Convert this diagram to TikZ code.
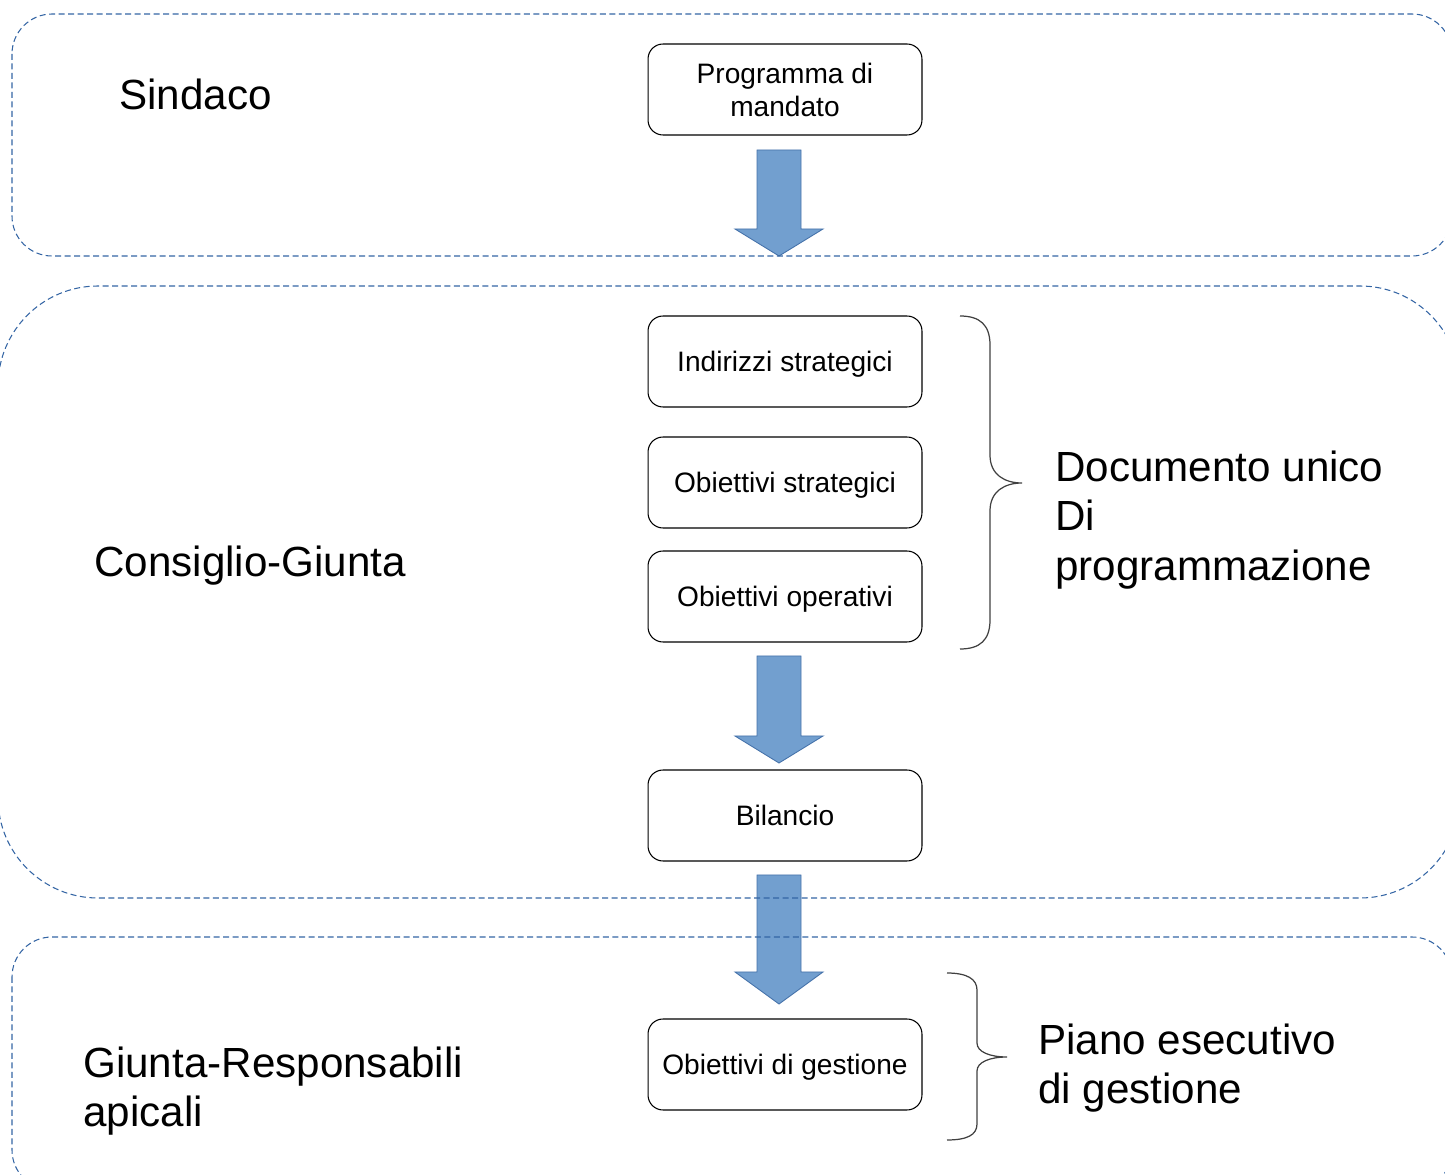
\documentclass[tikz,border=0pt]{standalone}
\usepackage{fontspec}
\setmainfont{Liberation Sans}
\usepackage{tikz}

\definecolor{cornice}{RGB}{52,101,164}
\definecolor{frecciafill}{RGB}{114,159,207}
\definecolor{frecciabordo}{RGB}{69,114,170}

\tikzset{
    casella/.style={draw=black, line width=0.6pt, rounded corners=0.3cm,
        minimum width=5.48cm, minimum height=1.82cm, inner sep=0pt, align=center,
        text depth=0pt, font=\fontsize{16}{18.7}\selectfont},
    etichetta/.style={inner sep=0pt, align=left, anchor=west,
        font=\fontsize{24}{28}\selectfont},
    freccia/.style={fill=frecciafill, draw=frecciabordo, line width=0.5pt},
    cornice/.style={draw=cornice, line width=0.6pt, dash pattern=on 0.12cm off 0.07cm},
    graffa/.style={draw=black!75, line width=0.7pt}
}

\begin{document}
\begin{tikzpicture}[x=0.02cm, y=-0.02cm]
    \useasboundingbox (0,0) rectangle (1445,1175);
    % Caselle
    \node[casella] (prog) at (785,89.5) {Programma di\\mandato};
    \node[casella] (indir) at (785,361.5) {Indirizzi strategici};
    \node[casella] (obstrat) at (785,482.5) {Obiettivi strategici};
    \node[casella] (obop) at (785,596.5) {Obiettivi operativi};
    \node[casella] (bil) at (785,815.5) {Bilancio};
    \node[casella] (obgest) at (785,1064.5) {Obiettivi di gestione};
    % Etichette
    \node[etichetta] (sindaco) at (119,94) {Sindaco};
    \node[etichetta] (consiglio) at (94,566) {Consiglio-Giunta};
    \node[etichetta] (giunta) at (83,1091) {Giunta-Responsabili\\apicali};
    \node[etichetta] (dup) at (1055,520) {Documento unico\\Di\\programmazione};
    \node[etichetta] (peg) at (1038,1068) {Piano esecutivo\\di gestione};
    % Frecce
    \foreach \ytop/\yhead/\ytip in {150/229/256,656/736/763,875/972/1004} {
        \draw[freccia] (757,\ytop) -- (801,\ytop) -- (801,\yhead) -- (823,\yhead)
            -- (779,\ytip) -- (735,\yhead) -- (757,\yhead) -- cycle;
    }
    % Graffe
    \draw[graffa] (960,316) .. controls (980,316) and (990,325) .. (990,345) -- (990,455)
        .. controls (990,475) and (1005,483) .. (1022,483)
        .. controls (1005,483) and (990,491) .. (990,511) -- (990,620)
        .. controls (990,640) and (980,649) .. (960,649);
    \draw[graffa] (947,973) .. controls (967,973) and (977,979) .. (977,990) -- (977,1043)
        .. controls (977,1052) and (990,1057) .. (1007,1057)
        .. controls (990,1057) and (977,1062) .. (977,1071) -- (977,1124)
        .. controls (977,1135) and (967,1140) .. (947,1140);
    % Cornici
    \draw[cornice, rounded corners=0.8cm] (12,14) rectangle (1452,256);
    \draw[cornice, rounded corners=2cm] (-2,286) rectangle (1460,898);
    \draw[cornice, rounded corners=0.8cm] (12,937) rectangle (1452,1190);
\end{tikzpicture}
\end{document}
